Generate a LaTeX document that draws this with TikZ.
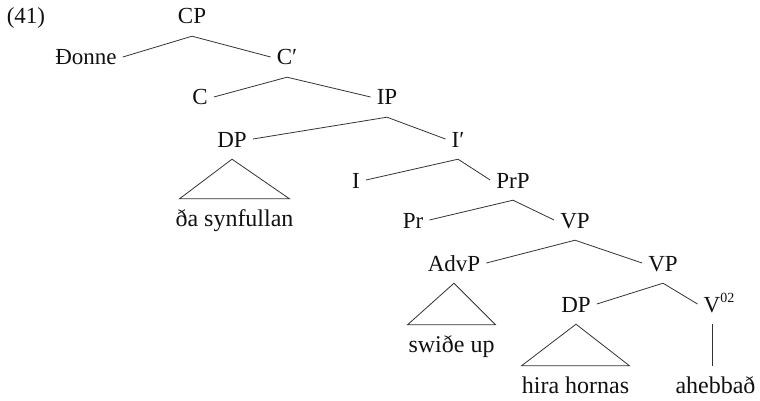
\documentclass[tikz,border=0pt]{standalone}
\usepackage{fontspec}
\setmainfont{Liberation Serif}
\usepackage{xcolor}
\definecolor{textmain}{HTML}{111111}
\definecolor{branchline}{HTML}{333333}

\begin{document}
\begin{tikzpicture}[
        x=1pt, y=-1pt,
        cat/.style={
            anchor=base,
            inner xsep=6pt, inner ysep=12pt,
            text height=16pt, text depth=0pt,
            text=textmain,
            font=\fontsize{23}{27}\selectfont
        },
        leaf/.style={
            anchor=base,
            inner xsep=2pt, inner ysep=10pt,
            text height=17pt, text depth=0pt,
            text=textmain,
            font=\fontsize{24}{28}\selectfont
        },
        branch/.style={draw=branchline, line width=0.8pt}
    ]
    \useasboundingbox (0,0) rectangle (760,401);

    % Example number
    \node[cat] (num) at (26,24) {(41)};

    % Upper spine
    \node[cat] (cp)    at (192,24)  {CP};
    \node[cat] (donne) at (86,65)   {Ðonne};
    \node[cat] (cbar)  at (287,65)  {C′};
    \node[cat] (c)     at (200,105) {C};
    \node[cat] (ip)    at (387,105) {IP};
    \node[cat] (dp)    at (232,147) {DP};
    \node[cat] (ibar)  at (458,147) {I′};
    \node[cat] (i)     at (356,188) {I};
    \node[cat] (prp)   at (513,188) {PrP};

    % Lower spine
    \node[cat] (pr)    at (413,228) {Pr};
    \node[cat] (vp)    at (575,228) {VP};
    \node[cat] (advp)  at (454,271) {AdvP};
    \node[cat] (vpb)   at (663,271) {VP};
    \node[cat] (dpb)   at (576,312) {DP};
    \node[cat] (v)     at (712,312) {V\rlap{\raisebox{10pt}{\fontsize{14}{14}\selectfont 02}}};

    % Words
    \node[leaf] (synf)  at (234.5,226) {ða synfullan};
    \node[leaf] (swide) at (451.5,352) {swiðe up};
    \node[leaf] (hira)  at (575.5,393) {hira hornas};
    \node[leaf] (aheb)  at (715.5,393) {ahebbað};

    % Branches
    \foreach \m/\l/\r in {cp/donne/cbar, cbar/c/ip, ip/dp/ibar, ibar/i/prp,
                          prp/pr/vp, vp/advp/vpb, vpb/dpb/v} {
        \draw[branch] (\l.east) -- (\m.south) -- (\r.west);
    }

    % Roofs over unanalysed phrases
    \foreach \m/\l/\w in {dp/synf/55, advp/swide/44, dpb/hira/54} {
        \draw[branch] (\m.south) -- ([xshift=-\w]\l.north) -- ([xshift=\w]\l.north) -- cycle;
    }
    \draw[branch] (v.south) -- (v.south |- aheb.north);

\end{tikzpicture}
\end{document}
